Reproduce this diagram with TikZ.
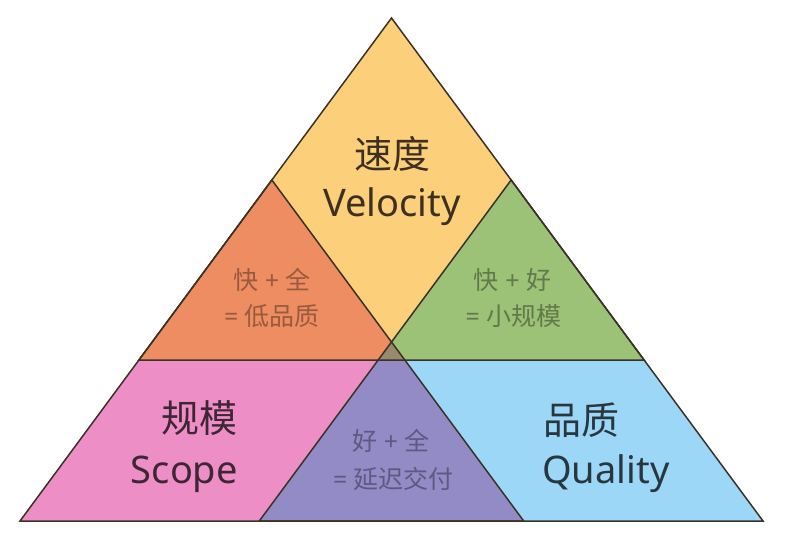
\documentclass[tikz,border=0pt]{standalone}
\usepackage{fontspec}
\setmainfont{Noto Sans}
\newfontfamily\cjk{Noto Sans CJK SC}
\definecolor{cyel}{HTML}{FCCF7A}
\definecolor{cora}{HTML}{EE8C62}
\definecolor{cgre}{HTML}{9BC277}
\definecolor{cpin}{HTML}{EE8EC6}
\definecolor{cblu}{HTML}{9DD7F7}
\definecolor{cpur}{HTML}{938BC6}
\definecolor{cdark}{HTML}{988A6C}
\definecolor{cline}{HTML}{3A3226}
\definecolor{tvel}{HTML}{3E3020}
\definecolor{tsco}{HTML}{3E2636}
\definecolor{tqua}{HTML}{28363F}
\definecolor{tora}{HTML}{9A5A3E}
\definecolor{tgre}{HTML}{62794A}
\definecolor{tpur}{HTML}{5E5982}
\tikzset{
  region/.style={draw=none},
  edge/.style={draw=cline, line width=1.5pt, line join=miter},
  bigtext/.style={anchor=base, inner sep=0pt, font=\fontsize{38}{41}\selectfont},
  smalltext/.style={anchor=base, inner sep=0pt, font=\fontsize{25}{28}\selectfont},
}
\begin{document}
\begin{tikzpicture}[x=1pt,y=-1pt]
\path[use as bounding box] (0,0) rectangle (785,540);
% key points
\coordinate (A) at (391.5,18);
\coordinate (BL) at (20,521);
\coordinate (BR) at (763,521);
\coordinate (Sa) at (271.85,180);
\coordinate (Qa) at (511.15,180);
\coordinate (C) at (391.5,342);
\coordinate (VL) at (138.9,360);
\coordinate (VR) at (644.1,360);
\coordinate (ML) at (378.2,360);
\coordinate (MR) at (404.8,360);
\coordinate (SR) at (523.7,521);
\coordinate (QL) at (259.3,521);
% regions
\fill[cyel] (A) -- (Qa) -- (C) -- (Sa) -- cycle;
\fill[cora] (Sa) -- (C) -- (ML) -- (VL) -- cycle;
\fill[cgre] (Qa) -- (VR) -- (MR) -- (C) -- cycle;
\fill[cdark] (C) -- (MR) -- (ML) -- cycle;
\fill[cpin] (VL) -- (ML) -- (QL) -- (BL) -- cycle;
\fill[cpur] (ML) -- (MR) -- (SR) -- (QL) -- cycle;
\fill[cblu] (MR) -- (VR) -- (BR) -- (SR) -- cycle;
% outlines of the three triangles
\draw[edge] (A) -- (VL) -- (VR) -- cycle;
\draw[edge] (Sa) -- (BL) -- (SR) -- cycle;
\draw[edge] (Qa) -- (QL) -- (BR) -- cycle;
% texts
\node[bigtext, text=tvel] (v1) at (392,169) {\cjk 速度};
\node[bigtext, text=tvel] (v2) at (392,217) {Velocity};
\node[bigtext, text=tsco, anchor=base east] (s1) at (238,432) {\cjk 规模};
\node[bigtext, text=tsco, anchor=base east] (s2) at (238,483) {Scope};
\node[bigtext, text=tqua, anchor=base west] (q1) at (543,434) {\cjk 品质};
\node[bigtext, text=tqua, anchor=base west] (q2) at (542,483) {Quality};
\node[smalltext, text=tora] (o1) at (272,290) {{\cjk 快} + {\cjk 全}};
\node[smalltext, text=tora] (o2) at (272,326) {= {\cjk 低品质}};
\node[smalltext, text=tgre] (g1) at (512.5,290) {{\cjk 快} + {\cjk 好}};
\node[smalltext, text=tgre] (g2) at (513.5,326) {= {\cjk 小规模}};
\node[smalltext, text=tpur] (p1) at (391,450) {{\cjk 好} + {\cjk 全}};
\node[smalltext, text=tpur] (p2) at (393.5,488) {= {\cjk 延迟交付}};
\end{tikzpicture}
\end{document}
